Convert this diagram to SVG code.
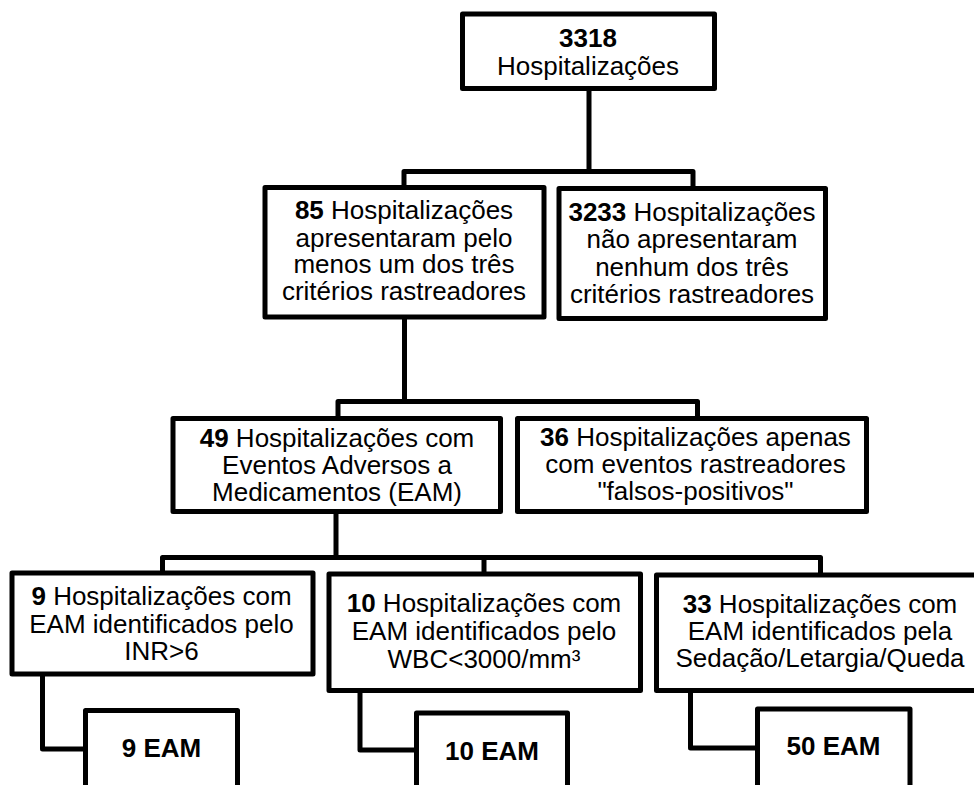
<svg xmlns="http://www.w3.org/2000/svg" width="974" height="785" viewBox="0 0 974 785">
<style>
  .box { fill: #ffffff; stroke: #000000; stroke-width: 5; stroke-linejoin: round; }
  .conn { fill: none; stroke: #000000; stroke-width: 5; stroke-linejoin: round; stroke-linecap: butt; }
  text { font-family: "Liberation Sans", Arial, sans-serif; font-size: 26px; fill: #000000; text-anchor: middle; }
  .b { font-weight: bold; }
</style>
<rect width="974" height="785" fill="#ffffff"/>
<g id="connectors">
  <path class="conn" d="M589,88 V171.5 M404,187 V171.5 H693 V188"/>
  <path class="conn" d="M404.5,317 V401.5 M338,418 V401.5 H697.5 V418"/>
  <path class="conn" d="M336,511 V557.5 M162.5,573 V557.5 H820.5 V575 M484,557.5 V574"/>
  <path class="conn" d="M42.5,674 V749 H85.5"/>
  <path class="conn" d="M360,690.5 V750 H416.5"/>
  <path class="conn" d="M690.5,690.5 V748 H757.5"/>
</g>
<g id="n3318">
  <rect class="box" x="462.5" y="14" width="252" height="74.5"/>
  <text x="588" y="47"><tspan class="b">3318</tspan></text>
  <text x="588" y="74.5">Hospitalizações</text>
</g>
<g id="n85">
  <rect class="box" x="265" y="187.5" width="279" height="129.5"/>
  <text x="404" y="219"><tspan class="b">85</tspan> Hospitalizações</text>
  <text x="404" y="246.5">apresentaram pelo</text>
  <text x="404" y="273">menos um dos três</text>
  <text x="404" y="300">critérios rastreadores</text>
</g>
<g id="n3233">
  <rect class="box" x="559" y="188.5" width="266.5" height="130"/>
  <text x="692" y="220.5"><tspan class="b">3233</tspan> Hospitalizações</text>
  <text x="692" y="248">não apresentaram</text>
  <text x="692" y="275.5">nenhum dos três</text>
  <text x="692" y="303">critérios rastreadores</text>
</g>
<g id="n49">
  <rect class="box" x="173" y="418.5" width="327.5" height="93"/>
  <text x="337" y="447"><tspan class="b">49</tspan> Hospitalizações com</text>
  <text x="337" y="474">Eventos Adversos a</text>
  <text x="337" y="501">Medicamentos (EAM)</text>
</g>
<g id="n36">
  <rect class="box" x="517.5" y="418.5" width="349" height="93"/>
  <text x="695.5" y="446"><tspan class="b">36</tspan> Hospitalizações apenas</text>
  <text x="695.5" y="473">com eventos rastreadores</text>
  <text x="695.5" y="500">"falsos-positivos"</text>
</g>
<g id="n9">
  <rect class="box" x="12" y="573" width="301" height="101"/>
  <text x="161.5" y="605"><tspan class="b">9</tspan> Hospitalizações com</text>
  <text x="161.5" y="632.5">EAM identificados pelo</text>
  <text x="161.5" y="660">INR&gt;6</text>
</g>
<g id="n10">
  <rect class="box" x="329" y="574" width="311.5" height="116.5"/>
  <text x="484" y="612"><tspan class="b">10</tspan> Hospitalizações com</text>
  <text x="484" y="640">EAM identificados pelo</text>
  <text x="484" y="668">WBC&lt;3000/mm³</text>
</g>
<g id="n33">
  <rect class="box" x="656.5" y="575" width="330" height="115.5"/>
  <text x="820" y="613"><tspan class="b">33</tspan> Hospitalizações com</text>
  <text x="820" y="640">EAM identificados pela</text>
  <text x="820" y="667">Sedação/Letargia/Queda</text>
</g>
<g id="e9">
  <rect class="box" x="85.5" y="710.5" width="152" height="100"/>
  <text class="b" x="161.5" y="757">9 EAM</text>
</g>
<g id="e10">
  <rect class="box" x="416.5" y="713" width="151" height="100"/>
  <text class="b" x="492" y="760">10 EAM</text>
</g>
<g id="e50">
  <rect class="box" x="757.5" y="709" width="152.5" height="100"/>
  <text class="b" x="833.5" y="755">50 EAM</text>
</g>
</svg>
